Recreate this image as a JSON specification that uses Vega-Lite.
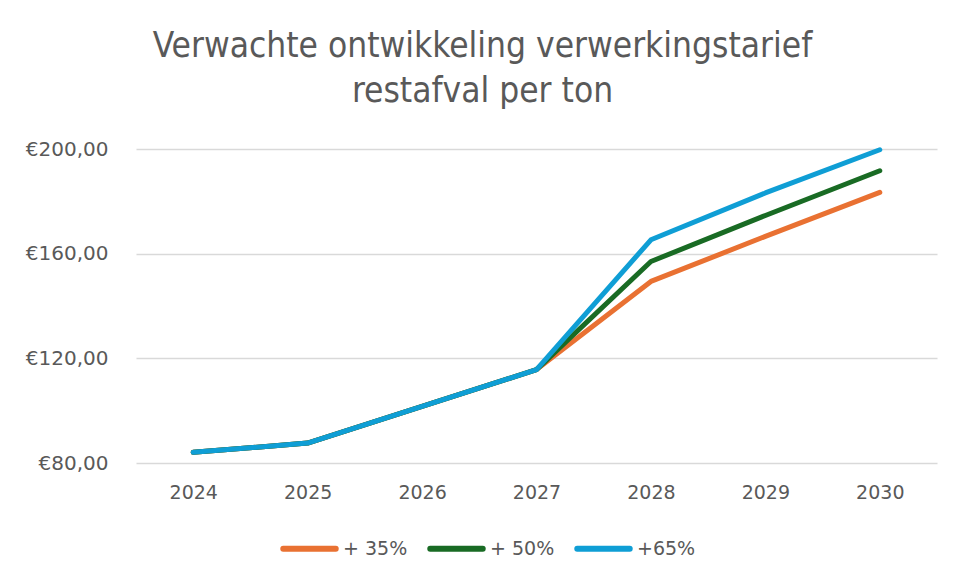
{
  "$schema": "https://vega.github.io/schema/vega-lite/v6.json",
  "width": 801,
  "height": 314,
  "autosize": "none",
  "padding": {"left": 136, "top": 149, "right": 20, "bottom": 116},
  "background": "white",
  "title": {
    "text": ["Verwachte ontwikkeling verwerkingstarief", "restafval per ton"],
    "font": "DejaVu Sans Condensed, Liberation Sans, sans-serif",
    "fontSize": 35,
    "fontWeight": "normal",
    "color": "#595959",
    "lineHeight": 45,
    "anchor": "middle",
    "dx": -54,
    "offset": 30
  },
  "data": {
    "values": [
      {"year": "2024", "scenario": "+ 35%", "value": 84.1},
      {"year": "2025", "scenario": "+ 35%", "value": 87.6},
      {"year": "2026", "scenario": "+ 35%", "value": 101.6},
      {"year": "2027", "scenario": "+ 35%", "value": 115.7},
      {"year": "2028", "scenario": "+ 35%", "value": 149.4},
      {"year": "2029", "scenario": "+ 35%", "value": 166.6},
      {"year": "2030", "scenario": "+ 35%", "value": 183.4},
      {"year": "2024", "scenario": "+ 50%", "value": 84.1},
      {"year": "2025", "scenario": "+ 50%", "value": 87.6},
      {"year": "2026", "scenario": "+ 50%", "value": 101.6},
      {"year": "2027", "scenario": "+ 50%", "value": 115.7},
      {"year": "2028", "scenario": "+ 50%", "value": 157.0},
      {"year": "2029", "scenario": "+ 50%", "value": 174.6},
      {"year": "2030", "scenario": "+ 50%", "value": 191.7},
      {"year": "2024", "scenario": "+65%", "value": 84.1},
      {"year": "2025", "scenario": "+65%", "value": 87.6},
      {"year": "2026", "scenario": "+65%", "value": 101.6},
      {"year": "2027", "scenario": "+65%", "value": 115.7},
      {"year": "2028", "scenario": "+65%", "value": 165.3},
      {"year": "2029", "scenario": "+65%", "value": 183.2},
      {"year": "2030", "scenario": "+65%", "value": 199.7}
    ]
  },
  "mark": {"type": "line", "strokeWidth": 5, "strokeCap": "round", "strokeJoin": "round"},
  "encoding": {
    "x": {
      "field": "year",
      "type": "ordinal",
      "scale": {"type": "point", "padding": 0.5},
      "axis": {
        "title": null,
        "labelAngle": 0,
        "ticks": false,
        "domain": false,
        "grid": false,
        "labelPadding": 20,
        "labelFont": "DejaVu Sans",
        "labelFontSize": 19,
        "labelColor": "#595959"
      }
    },
    "y": {
      "field": "value",
      "type": "quantitative",
      "scale": {"domain": [80, 200], "nice": false, "zero": false},
      "axis": {
        "title": null,
        "values": [80, 120, 160, 200],
        "labelExpr": "'€' + replace(format(datum.value, '.2f'), '.', ',')",
        "ticks": false,
        "domain": false,
        "grid": true,
        "gridColor": "#D9D9D9",
        "gridWidth": 1.5,
        "labelPadding": 28,
        "labelFont": "DejaVu Sans",
        "labelFontSize": 20,
        "labelColor": "#595959"
      }
    },
    "color": {
      "field": "scenario",
      "type": "nominal",
      "scale": {"domain": ["+ 35%", "+ 50%", "+65%"], "range": ["#E97132", "#196B24", "#0F9ED5"]},
      "legend": {
        "title": null,
        "orient": "none",
        "direction": "horizontal",
        "legendX": 144,
        "legendY": 370,
        "symbolType": "stroke",
        "symbolSize": 2750,
        "symbolStrokeWidth": 6,
        "labelFont": "DejaVu Sans",
        "labelFontSize": 19,
        "labelColor": "#595959",
        "labelOffset": 4,
        "columnPadding": 10,
        "encode": {"symbols": {"update": {"strokeCap": {"value": "round"}}}}
      }
    }
  },
  "config": {"view": {"stroke": null}}
}
